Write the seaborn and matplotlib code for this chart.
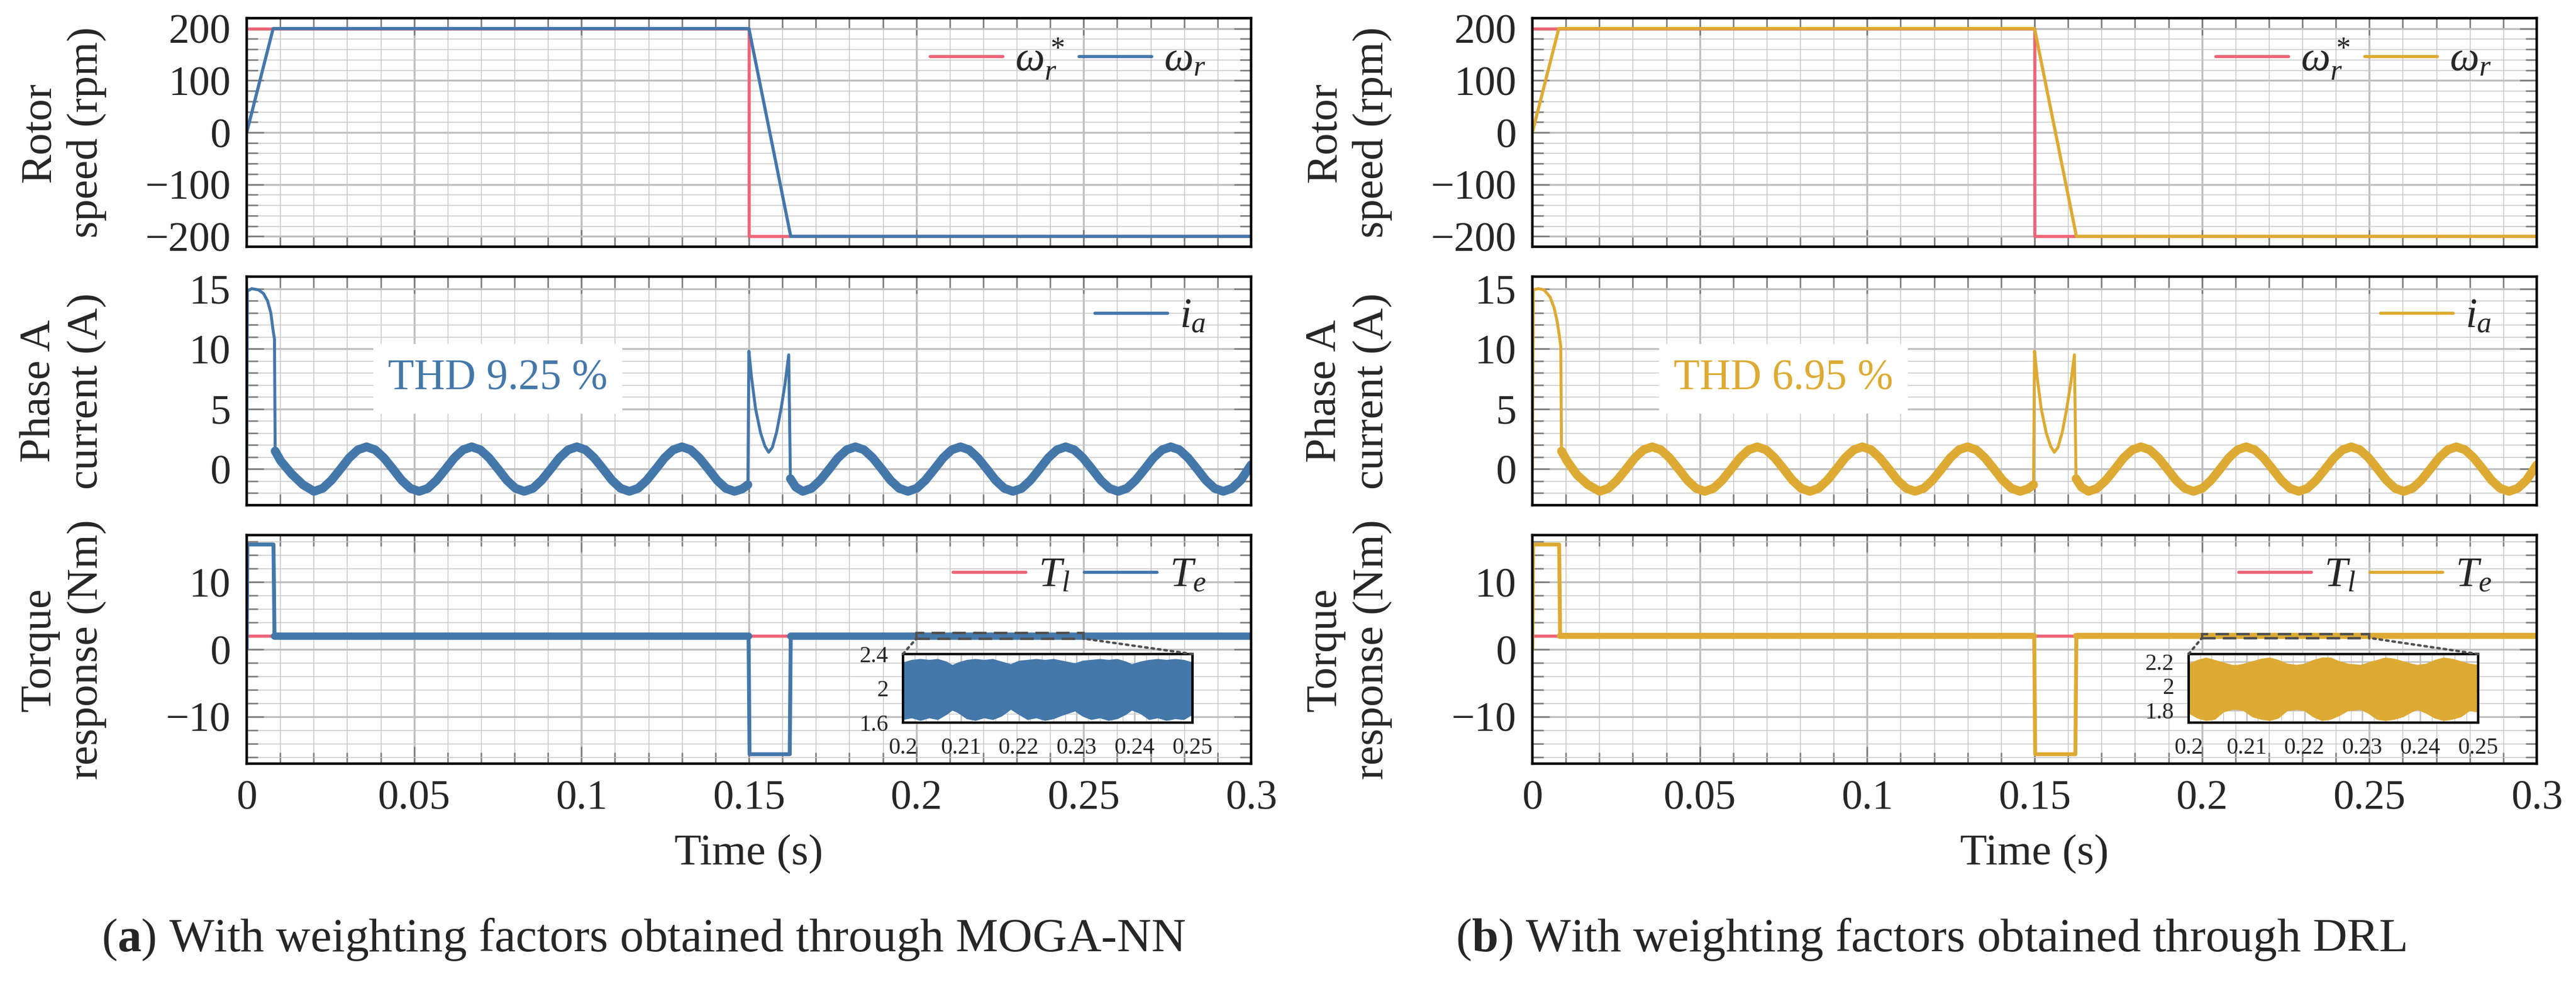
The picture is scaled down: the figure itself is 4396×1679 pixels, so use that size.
import matplotlib
matplotlib.use("Agg")
import matplotlib.pyplot as plt
import seaborn as sns
from matplotlib.ticker import MultipleLocator, FuncFormatter
from matplotlib.patches import Rectangle, ConnectionPatch

sns.set_style("whitegrid")
plt.rcParams["font.family"] = ["Liberation Serif", "DejaVu Serif"]
plt.rcParams["mathtext.fontset"] = "custom"
plt.rcParams["mathtext.rm"] = "Liberation Serif"
plt.rcParams["mathtext.it"] = "Liberation Serif:italic"
plt.rcParams["mathtext.bf"] = "Liberation Serif:bold"

RED = "#EE6677"
BLUE = "#4477AA"
GOLD = "#DDAA33"

# ---- rotor speed (rpm)
speed_ref_t = [0, 0.15, 0.15, 0.3]
speed_ref = [200, 200, -200, -200]
speed_t = [0, 0.0079, 0.1500, 0.1625, 0.3]
speed = [0, 200, 200, -200, -200]

# ---- phase A current (A)
ia_start_t_a = [0, 0.0002, 0.0015, 0.0035, 0.0050, 0.0062, 0.0072, 0.0079, 0.0083, 0.0085, 0.0101, 0.0134, 0.0168]
ia_start_a = [0, 14.8, 15.0, 14.9, 14.6, 14.0, 13.0, 11.5, 10.8, 1.5, 0.7, -0.4, -1.3]
ia_start_t_b = [0, 0.0003, 0.0018, 0.0035, 0.0053, 0.0065, 0.0074, 0.0081, 0.0085, 0.0087, 0.0103, 0.0134, 0.0166]
ia_start_b = [0, 14.9, 15.0, 14.9, 14.3, 13.4, 12.3, 11.0, 10.2, 1.5, 0.7, -0.5, -1.3]

ia_run1_t = [0.0201, 0.0227, 0.0253, 0.0280, 0.0306, 0.0332, 0.0358, 0.0384, 0.0410, 0.0437, 0.0463, 0.0489,
             0.0515, 0.0541, 0.0567, 0.0594, 0.0620, 0.0646, 0.0672, 0.0698, 0.0724, 0.0751, 0.0777, 0.0803,
             0.0829, 0.0855, 0.0881, 0.0908, 0.0934, 0.0960, 0.0986, 0.1012, 0.1038, 0.1065, 0.1091, 0.1117,
             0.1143, 0.1169, 0.1195, 0.1222, 0.1248, 0.1274, 0.1300, 0.1326, 0.1352, 0.1379, 0.1405, 0.1431,
             0.1457, 0.1480, 0.1497]
ia_run1 = [-1.85, -1.6, -0.93, 0, 0.93, 1.6, 1.85, 1.6, 0.93, 0, -0.93, -1.6,
           -1.85, -1.6, -0.93, 0, 0.93, 1.6, 1.85, 1.6, 0.93, 0, -0.93, -1.6,
           -1.85, -1.6, -0.93, 0, 0.93, 1.6, 1.85, 1.6, 0.93, 0, -0.93, -1.6,
           -1.85, -1.6, -0.93, 0, 0.93, 1.6, 1.85, 1.6, 0.93, 0, -0.93, -1.6,
           -1.85, -1.65, -1.3]

ia_spike_t = [0.1500, 0.1508, 0.1520, 0.1535, 0.1548, 0.1559, 0.1570, 0.1583, 0.1596, 0.1608, 0.1619, 0.1624, 0.1640]
ia_spike = [9.8, 7.6, 5.0, 3.0, 1.9, 1.4, 1.8, 3.1, 5.0, 7.1, 9.5, -0.8, -1.5]

ia_run2_t = [0.1661, 0.1687, 0.1713, 0.1740, 0.1766, 0.1792, 0.1818, 0.1844, 0.1870, 0.1897, 0.1923, 0.1949,
             0.1975, 0.2001, 0.2027, 0.2054, 0.2080, 0.2106, 0.2132, 0.2158, 0.2184, 0.2211, 0.2237, 0.2263,
             0.2289, 0.2315, 0.2341, 0.2368, 0.2394, 0.2420, 0.2446, 0.2472, 0.2498, 0.2525, 0.2551, 0.2577,
             0.2603, 0.2629, 0.2655, 0.2682, 0.2708, 0.2734, 0.2760, 0.2786, 0.2812, 0.2839, 0.2865, 0.2891,
             0.2917, 0.2943, 0.2969, 0.2994, 0.3000]
ia_run2 = [-1.85, -1.6, -0.93, 0, 0.93, 1.6, 1.85, 1.6, 0.93, 0, -0.93, -1.6,
           -1.85, -1.6, -0.93, 0, 0.93, 1.6, 1.85, 1.6, 0.93, 0, -0.93, -1.6,
           -1.85, -1.6, -0.93, 0, 0.93, 1.6, 1.85, 1.6, 0.93, 0, -0.93, -1.6,
           -1.85, -1.6, -0.93, 0, 0.93, 1.6, 1.85, 1.6, 0.93, 0, -0.93, -1.6,
           -1.85, -1.6, -0.93, 0.1, 0.35]

# ---- torque (Nm)
tl_t = [0, 0.3]
tl = [2, 2]
te_t = [0, 0.0002, 0.0080, 0.0083, 0.1499, 0.1502, 0.1622, 0.1625, 0.3]
te = [0, 15.6, 15.6, 2.0, 2.0, -15.6, -15.6, 2.0, 2.0]

# ---- zoomed torque ripple envelope, 0.2 .. 0.25 s
env_t = [0.200, 0.2015, 0.203, 0.2045, 0.206, 0.2075, 0.2085, 0.2095, 0.211, 0.2125,
         0.214, 0.2155, 0.217, 0.2186, 0.220, 0.2215, 0.223, 0.2245, 0.226, 0.2275,
         0.2297, 0.231, 0.2325, 0.234, 0.2355, 0.237, 0.2385, 0.2395, 0.241, 0.2425,
         0.244, 0.2455, 0.247, 0.2485, 0.250]
env_up_a = [2.30, 2.33, 2.34, 2.33, 2.34, 2.31, 2.27, 2.30, 2.33, 2.34,
            2.33, 2.34, 2.31, 2.28, 2.32, 2.33, 2.34, 2.33, 2.34, 2.32,
            2.29, 2.32, 2.33, 2.34, 2.33, 2.34, 2.31, 2.28, 2.31, 2.33,
            2.34, 2.33, 2.34, 2.33, 2.30]
env_lo_a = [1.64, 1.66, 1.63, 1.66, 1.64, 1.70, 1.75, 1.72, 1.65, 1.63,
            1.66, 1.64, 1.68, 1.76, 1.70, 1.64, 1.66, 1.63, 1.65, 1.69,
            1.74, 1.68, 1.64, 1.66, 1.63, 1.65, 1.70, 1.75, 1.71, 1.64,
            1.66, 1.63, 1.65, 1.64, 1.70]
env_up_b = [2.18, 2.21, 2.23, 2.21, 2.19, 2.17, 2.17, 2.18, 2.20, 2.22,
            2.23, 2.21, 2.18, 2.17, 2.18, 2.21, 2.23, 2.23, 2.20, 2.18,
            2.17, 2.19, 2.21, 2.23, 2.22, 2.20, 2.18, 2.17, 2.18, 2.21,
            2.23, 2.22, 2.20, 2.18, 2.17]
env_lo_b = [1.78, 1.74, 1.72, 1.73, 1.79, 1.81, 1.81, 1.80, 1.75, 1.73,
            1.72, 1.74, 1.80, 1.81, 1.80, 1.75, 1.72, 1.73, 1.76, 1.80,
            1.81, 1.78, 1.73, 1.72, 1.73, 1.75, 1.79, 1.81, 1.78, 1.74,
            1.72, 1.73, 1.75, 1.80, 1.79]

x_ticks_zoom = [0.2, 0.21, 0.22, 0.23, 0.24, 0.25]


def num(v, pos=None):
    if abs(v) < 1e-9:
        return "0"
    return f"{v:g}".replace("-", "\u2212")


def style(ax, ylim, major, minor, xlabels=False):
    ax.set_xlim(0, 0.3)
    ax.set_ylim(*ylim)
    ax.xaxis.set_major_locator(MultipleLocator(0.05))
    ax.xaxis.set_minor_locator(MultipleLocator(0.01))
    ax.yaxis.set_major_locator(MultipleLocator(major))
    ax.yaxis.set_minor_locator(MultipleLocator(minor))
    ax.xaxis.set_major_formatter(FuncFormatter(num))
    ax.yaxis.set_major_formatter(FuncFormatter(num))
    ax.grid(which="major", color="#c0c0c0", lw=0.8)
    ax.grid(which="minor", color="#c6c6c6", lw=0.35)
    ax.set_axisbelow(True)
    ax.tick_params(which="both", direction="in", top=True, right=True, bottom=True, left=True,
                   color="#7a7a7a", width=0.6, labelsize=17, pad=6.5, labelbottom=xlabels)
    ax.tick_params(which="major", length=7)
    ax.tick_params(which="minor", length=4.5)
    for s in ax.spines.values():
        s.set_color("black")
        s.set_linewidth(1.05)


def ylab(ax, text):
    ax.set_ylabel(text, fontsize=18, linespacing=1.25, multialignment="center")
    ax.yaxis.label.set_va("center")
    ax.yaxis.set_label_coords(-0.1826, 0.5)


def legend(ax, ncol, y):
    lg = ax.legend(loc="center right", bbox_to_anchor=(0.955, y), ncol=ncol, frameon=False,
                   fontsize=17, handlelength=1.75, handletextpad=0.3, columnspacing=0.35,
                   borderpad=0, borderaxespad=0)
    for ln in lg.get_lines():
        ln.set_linewidth(1.3)


def line(ax, t, y, color, lw, label=None):
    sns.lineplot(x=t, y=y, ax=ax, color=color, lw=lw, sort=False, estimator=None,
                 errorbar=None, label=label, solid_capstyle="round", solid_joinstyle="round")


fig = plt.figure(figsize=(4396 / 300, 1679 / 300), dpi=300)
W = 1714 / 4396
H = 390 / 1679
rows = [1 - 421 / 1679, 1 - 862 / 1679, 1 - 1303 / 1679]

columns = [
    dict(x0=421 / 4396, color=BLUE, st_t=ia_start_t_a, st=ia_start_a, thd="THD 9.25 %",
         zlim=(1.6, 2.4), zticks=[1.6, 2, 2.4], up=env_up_a, lo=env_lo_a, te_lw=3.0,
         cap=r"($\mathbf{a}$) With weighting factors obtained through MOGA-NN", cx=1098 / 4396),
    dict(x0=2615 / 4396, color=GOLD, st_t=ia_start_t_b, st=ia_start_b, thd="THD 6.95 %",
         zlim=(1.7, 2.26), zticks=[1.8, 2, 2.2], up=env_up_b, lo=env_lo_b, te_lw=2.5,
         cap=r"($\mathbf{b}$) With weighting factors obtained through DRL", cx=3295 / 4396),
]

for c in columns:
    col = c["color"]

    # rotor speed
    ax = fig.add_axes([c["x0"], rows[0], W, H])
    line(ax, speed_ref_t, speed_ref, RED, 1.3, r"$\omega_r^*$")
    line(ax, speed_t, speed, col, 1.3, r"$\omega_r$")
    style(ax, (-220, 220), 100, 20)
    ylab(ax, "Rotor\nspeed (rpm)")
    legend(ax, 2, 0.821)

    # phase current: thin trace plus the thick ripple band in steady state
    ax = fig.add_axes([c["x0"], rows[1], W, H])
    t_all = c["st_t"] + ia_run1_t + ia_spike_t + ia_run2_t
    i_all = c["st"] + ia_run1 + ia_spike + ia_run2
    line(ax, t_all, i_all, col, 1.2, r"$i_a$")
    n0 = len(c["st_t"]) - 4
    line(ax, c["st_t"][n0:] + ia_run1_t, c["st"][n0:] + ia_run1, col, 3.6)
    line(ax, ia_spike_t[-2:] + ia_run2_t, ia_spike[-2:] + ia_run2, col, 3.6)
    ax.text(0.075, 7.5, c["thd"], color=col, fontsize=17.5, ha="center", va="center",
            bbox=dict(facecolor="white", edgecolor="none", boxstyle="square,pad=0.35"), zorder=3)
    style(ax, (-3, 16), 5, 1)
    ylab(ax, "Phase A\ncurrent (A)")
    legend(ax, 1, 0.823)

    # torque
    ax = fig.add_axes([c["x0"], rows[2], W, H])
    line(ax, tl_t, tl, RED, 1.3, r"$T_l$")
    line(ax, te_t, te, col, 1.6, r"$T_e$")
    line(ax, te_t[3:5], te[3:5], col, c["te_lw"])
    line(ax, te_t[7:], te[7:], col, c["te_lw"])
    style(ax, (-17, 17), 10, 2, xlabels=True)
    ylab(ax, "Torque\nresponse (Nm)")
    legend(ax, 2, 0.821)
    ax.set_xlabel("Time (s)", fontsize=18)
    ax.xaxis.label.set_va("center")
    ax.xaxis.set_label_coords(0.5, -0.397)

    lo, hi = c["zlim"]
    ax.add_patch(Rectangle((0.2, lo), 0.05, hi - lo, fill=False, ls=(0, (5.5, 3)), lw=1.0,
                           ec="#505050", zorder=4))
    ins = ax.inset_axes([0.6534, 0.1795, 0.2882, 0.30])
    ins.set_facecolor("white")
    ins.fill_between(env_t, c["lo"], c["up"], color=col, lw=0.4, zorder=2)
    ins.set_xlim(0.2, 0.25)
    ins.set_ylim(lo, hi)
    ins.set_xticks(x_ticks_zoom)
    ins.set_yticks(c["zticks"])
    ins.xaxis.set_minor_locator(MultipleLocator(0.002))
    ins.yaxis.set_minor_locator(MultipleLocator(0.1))
    ins.xaxis.set_major_formatter(FuncFormatter(num))
    ins.yaxis.set_major_formatter(FuncFormatter(num))
    ins.grid(which="major", color="#c0c0c0", lw=0.6)
    ins.grid(which="minor", color="#c6c6c6", lw=0.3)
    ins.set_axisbelow(True)
    ins.tick_params(which="both", direction="in", length=0, labelsize=9.5, pad=6)
    for s in ins.spines.values():
        s.set_color("black")
        s.set_linewidth(1.0)
    for xa, xb in [(0, 0.2), (1, 0.25)]:
        fig.add_artist(ConnectionPatch(xyA=(xa, 1), coordsA=ins.transAxes, xyB=(xb, lo),
                                       coordsB=ax.transData, ls=":", lw=1.0, color="#505050"))

    fig.text(c["cx"], 1 - 1603 / 1679, c["cap"], fontsize=19.5, ha="center", va="center")

fig.savefig("out.png", dpi=300)
